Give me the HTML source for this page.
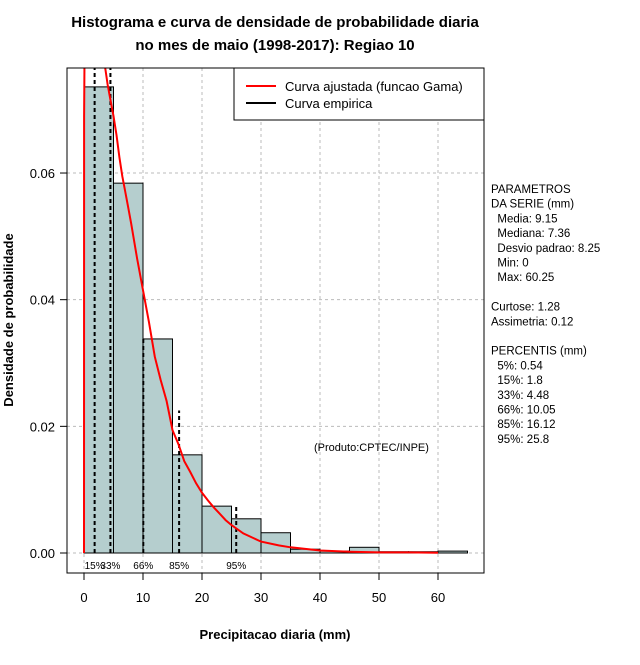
<!DOCTYPE html>
<html><head><meta charset="utf-8"><style>
body{margin:0;background:#fff;width:640px;height:660px;overflow:hidden}
svg{font-family:"Liberation Sans",sans-serif}
</style></head><body>
<svg id="c" width="640" height="660">
<text x="275" y="27" font-size="15" font-weight="bold" text-anchor="middle">Histograma e curva de densidade de probabilidade diaria</text>
<text x="275" y="50" font-size="15" font-weight="bold" text-anchor="middle">no mes de maio (1998-2017): Regiao 10</text>
<text x="275" y="639" font-size="13" font-weight="bold" text-anchor="middle">Precipitacao diaria (mm)</text>
<text transform="translate(13,320) rotate(-90)" font-size="13" font-weight="bold" text-anchor="middle">Densidade de probabilidade</text>
<g id="grid"></g><g id="bars"></g><g id="pct"></g>
<clipPath id="clip"><rect x="67" y="68" width="417" height="505"/></clipPath>
<path id="curve" clip-path="url(#clip)" fill="none" stroke="#ff0000" stroke-width="2"/>
<g id="axes"></g>
<rect x="67" y="68" width="417" height="505" fill="none" stroke="#000"/>
<g>
<rect x="234" y="68" width="250" height="52" fill="#fff" stroke="#000"/>
<line x1="246" y1="86" x2="276" y2="86" stroke="#f00" stroke-width="2"/>
<text x="285" y="91" font-size="13">Curva ajustada (funcao Gama)</text>
<line x1="246" y1="103" x2="276" y2="103" stroke="#000" stroke-width="2"/>
<text x="285" y="108" font-size="13">Curva empirica</text>
</g>
<text x="314" y="451" font-size="11">(Produto:CPTEC/INPE)</text>
<g id="params" font-size="11.5"></g>
</svg>
<script>
const binEdges=[0,5,10,15,20,25,30,35,40,45,50,55,60,65];
const densities=[0.0736,0.0584,0.0338,0.0155,0.0074,0.0054,0.0032,0.0006,0.0003,0.0009,0.0002,0.0002,0.0003];
const pctLabels=["15%","33%","66%","85%","95%"];
const pctValues=[1.8,4.48,10.05,16.12,25.8];
const pctHeights=[0.08,0.08,0.0338,0.0225,0.0075];
const curveX=[0,0.02,0.1,0.5,0.7,1,2,3,3.6,4,4.5,5,5.5,6,6.5,7,7.5,8,9,10,11,12,13,14,15,16,17,18,19,20,21,22,23,24,25,27,30,33,35,40,45,50,55,60];
const curveY=[0,0.069,0.08,0.09,0.0766,0.085,0.086,0.08,0.0766,0.074,0.0715,0.069,0.066,0.0625,0.0595,0.057,0.0545,0.052,0.0465,0.0415,0.0365,0.031,0.0273,0.024,0.0194,0.0172,0.0145,0.0128,0.011,0.0095,0.0083,0.0072,0.0062,0.0052,0.0044,0.0031,0.0018,0.0012,0.0009,0.0004,0.0002,0.0001,0.0001,0.00005];
const xTicks=[0,10,20,30,40,50,60];
const yTicks=[0,0.02,0.04,0.06];
const yTickLabels=["0.00","0.02","0.04","0.06"];
const paramLines=["PARAMETROS","DA SERIE (mm)","  Media: 9.15","  Mediana: 7.36","  Desvio padrao: 8.25","  Min: 0","  Max: 60.25","","Curtose: 1.28","Assimetria: 0.12","","PERCENTIS (mm)","  5%: 0.54","  15%: 1.8","  33%: 4.48","  66%: 10.05","  85%: 16.12","  95%: 25.8"];
const NS="http://www.w3.org/2000/svg";
const sx=v=>84+v*5.9, sy=v=>553-v*6333;
function mk(t,a,p){const e=document.createElementNS(NS,t);for(const k in a)e.setAttribute(k,a[k]);p.appendChild(e);return e;}
const grid=document.getElementById('grid'),axes=document.getElementById('axes');
xTicks.forEach((t,i)=>{
 const g=mk('line',{x1:sx(t),x2:sx(t),y1:68,y2:573,stroke:'#bbb','stroke-dasharray':'3,3'},grid);
 
 
 const tk=mk('line',{x1:sx(t),x2:sx(t),y1:573,y2:580,stroke:'#000'},axes);
 
 
 const l=mk('text',{x:sx(t),y:602,'font-size':13,'text-anchor':'middle'},axes);l.textContent=t;
 
 
});
yTicks.forEach((t,i)=>{
 const g=mk('line',{x1:67,x2:484,y1:sy(t),y2:sy(t),stroke:'#bbb','stroke-dasharray':'3,3'},grid);
 
 
 const tk=mk('line',{x1:60,x2:67,y1:sy(t),y2:sy(t),stroke:'#000'},axes);
 
 
 const l=mk('text',{x:55,y:sy(t)+5,'font-size':13,'text-anchor':'end'},axes);l.textContent=yTickLabels[i];
 
 
});
const bars=document.getElementById('bars');
densities.forEach((d,i)=>{
 const x0=sx(binEdges[i]),x1=sx(binEdges[i+1]);
 const r=mk('rect',{x:x0,y:sy(d),width:x1-x0,height:553-sy(d),fill:'#b5cece',stroke:'#000','stroke-width':1},bars);
 
 
});
const pct=document.getElementById('pct');
pctValues.forEach((v,i)=>{
 const l=mk('line',{x1:sx(v),x2:sx(v),y1:553,y2:Math.max(68,sy(pctHeights[i])),stroke:'#000','stroke-width':2,'stroke-dasharray':'4,3'},pct);
 
 
 const t=mk('text',{x:sx(v),y:569,'font-size':10,'text-anchor':'middle'},pct);t.textContent=pctLabels[i];
 
 
});
document.getElementById('curve').setAttribute('d',curveX.map((x,i)=>(i?'L':'M')+sx(x).toFixed(1)+','+sy(curveY[i]).toFixed(1)).join(''));
const pg=document.getElementById('params');
paramLines.forEach((s,i)=>{
 const t=mk('text',{x:491,y:193+i*14.7},pg);t.textContent=s.replace(/^  /,'\u00a0\u00a0');
 
 
});
</script>
</body></html>
